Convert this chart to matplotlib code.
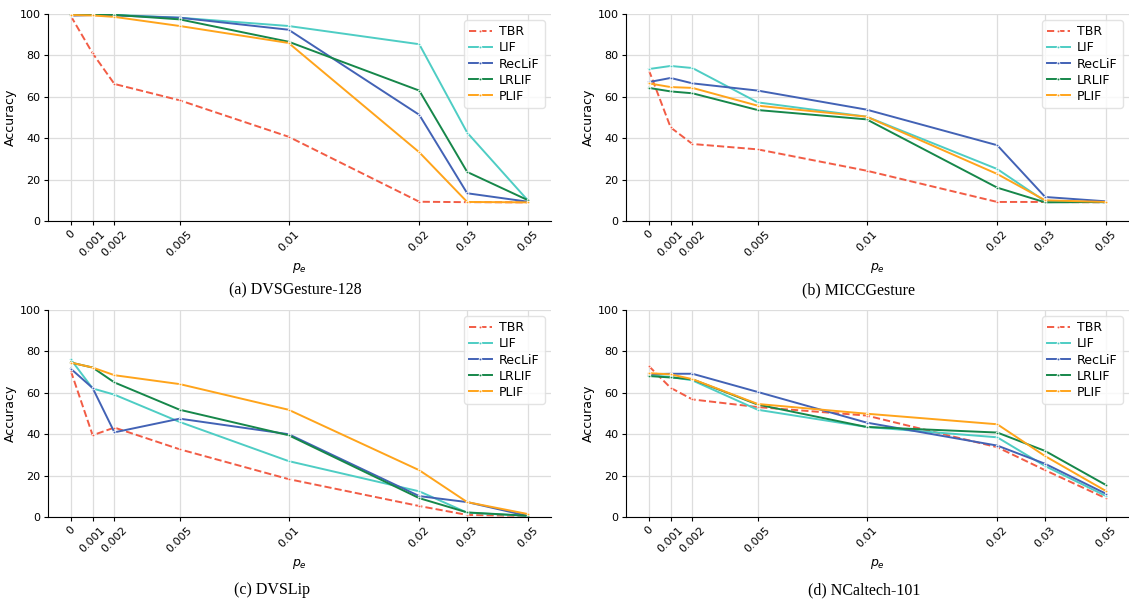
import numpy as np
import matplotlib
matplotlib.use('Agg')
import matplotlib.pyplot as plt

# error probabilities on the x axis
pe = [0, 0.001, 0.002, 0.005, 0.01, 0.02, 0.03, 0.05]
pe_labels = ['0', '0.001', '0.002', '0.005', '0.01', '0.02', '0.03', '0.05']
# where each p_e sits along the axis (the paper spaces them by hand)
pe_pos = [0, 1, 2, 5, 10, 16, 18.2, 21]

models = ['TBR', 'LIF', 'RecLiF', 'LRLIF', 'PLIF']
colors = ['#f25c45', '#4ecdc4', '#4262b5', '#16874a', '#ffa41b']
styles = ['--', '-', '-', '-', '-']

# accuracies
dvsgesture = {
    'TBR':    [99.0, 81.0, 66.2, 58.3, 40.7, 9.3, 9.1, 9.0],
    'LIF':    [99.5, 99.8, 99.6, 98.2, 94.2, 85.4, 42.7, 9.8],
    'RecLiF': [99.2, 99.5, 99.3, 98.2, 92.4, 51.3, 13.4, 9.3],
    'LRLIF':  [99.6, 99.9, 99.6, 97.4, 86.6, 63.0, 23.7, 10.0],
    'PLIF':   [99.5, 99.3, 98.6, 94.2, 86.0, 33.2, 9.2, 9.0],
}
miccgesture = {
    'TBR':    [72.9, 45.2, 37.2, 34.6, 24.3, 9.2, 9.2, 9.0],
    'LIF':    [73.4, 74.9, 73.9, 57.3, 50.4, 25.1, 9.5, 9.0],
    'RecLiF': [67.1, 69.1, 66.5, 63.0, 53.8, 36.6, 11.6, 9.5],
    'LRLIF':  [64.3, 62.6, 61.7, 53.6, 49.1, 16.1, 9.0, 9.2],
    'PLIF':   [66.5, 64.7, 64.3, 55.7, 50.4, 22.7, 10.0, 9.2],
}
dvslip = {
    'TBR':    [70.5, 39.5, 43.2, 32.7, 18.3, 5.3, 1.0, 0.5],
    'LIF':    [76.1, 62.1, 59.1, 45.9, 27.0, 12.4, 2.1, 0.5],
    'RecLiF': [71.6, 62.3, 40.9, 47.5, 40.0, 10.1, 7.2, 0.5],
    'LRLIF':  [74.6, 72.2, 65.0, 51.8, 39.5, 9.1, 2.2, 0.6],
    'PLIF':   [74.6, 72.2, 68.5, 64.2, 51.8, 22.6, 7.2, 1.4],
}
ncaltech = {
    'TBR':    [72.9, 62.4, 56.8, 53.1, 49.0, 33.7, 22.6, 9.0],
    'LIF':    [68.4, 67.7, 66.0, 51.8, 43.5, 38.5, 24.6, 10.1],
    'RecLiF': [69.0, 69.2, 69.2, 60.4, 45.6, 34.5, 25.7, 11.2],
    'LRLIF':  [68.1, 67.4, 66.5, 54.3, 43.5, 40.8, 31.9, 15.4],
    'PLIF':   [69.5, 68.9, 66.6, 54.6, 49.9, 44.8, 29.4, 12.5],
}

datasets = [dvsgesture, miccgesture, dvslip, ncaltech]
captions = ['(a) DVSGesture-128', '(b) MICCGesture', '(c) DVSLip', '(d) NCaltech-101']


def fwd(x):
    x = np.asarray(x, dtype=float)
    return np.where(x < 0, x * 1000,
                    np.where(x > 0.05, 21 + (x - 0.05) * 140, np.interp(x, pe, pe_pos)))


def inv(y):
    y = np.asarray(y, dtype=float)
    return np.where(y < 0, y / 1000,
                    np.where(y > 21, 0.05 + (y - 21) / 140, np.interp(y, pe_pos, pe)))


fig = plt.figure(figsize=(11.29, 6.02), dpi=100)

W, H = 503 / 1129, 207 / 602
boxes = [(48 / 1129, 1 - 221 / 602), (626 / 1129, 1 - 221 / 602),
         (48 / 1129, 1 - 517 / 602), (626 / 1129, 1 - 517 / 602)]
cap_x = [295, 858, 272, 864]
cap_y = [290, 290, 590, 590]

for i, data in enumerate(datasets):
    ax = fig.add_axes([boxes[i][0], boxes[i][1], W, H])
    ax.set_xscale('function', functions=(fwd, inv))
    for m, c, ls in zip(models, colors, styles):
        ax.plot(pe, data[m], color=c, linestyle=ls, lw=1.4, marker='.', ms=4,
                mec='white', mew=0.6, label=m)
    ax.set_ylim(0, 100)
    ax.set_yticks([0, 20, 40, 60, 80, 100])
    ax.set_xticks(pe)
    ax.set_xticklabels(pe_labels, rotation=45)
    ax.tick_params(labelsize=8, length=3, pad=2.5)
    ax.grid(True, color='#dddddd', lw=0.9)
    ax.set_axisbelow(True)
    for s in ['top', 'right']:
        ax.spines[s].set_visible(False)
    ax.set_ylabel('Accuracy', fontsize=9, labelpad=1.5)
    ax.set_xlabel('$p_e$', fontsize=9, labelpad=2)
    ax.legend(loc='upper right', fontsize=9, edgecolor='#dddddd', fancybox=True,
              labelspacing=0.25, handlelength=1.8, handletextpad=0.6)
    fig.text(cap_x[i] / 1129, 1 - cap_y[i] / 602, captions[i], ha='center', va='center',
             family='Liberation Serif', fontsize=11.5)

plt.savefig('out.png', dpi=100)
